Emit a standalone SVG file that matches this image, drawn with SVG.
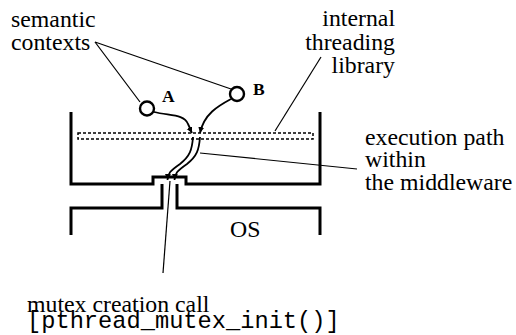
<svg xmlns="http://www.w3.org/2000/svg" width="516" height="335" viewBox="0 0 516 335">
<style>
text{fill:#000}
.t{font-size:23.8px}
.m{font-size:23.7px}
.b{font-size:17.5px;font-weight:bold}
.thick{fill:none;stroke:#000;stroke-width:3}
.thin{fill:none;stroke:#000;stroke-width:1.2}
.path{fill:none;stroke:#000;stroke-width:1.8}
.dot{fill:none;stroke:#000;stroke-width:1.5;stroke-dasharray:3 2}
.ctx{fill:#fff;stroke:#000;stroke-width:2.4}
</style>
<defs>
<marker id="ah" markerWidth="8" markerHeight="8" refX="6" refY="3" orient="auto" markerUnits="userSpaceOnUse">
<path d="M0,0 L6,3 L0,6 Z" fill="#000"/>
</marker>
</defs>
<g id="middleware">
<path class="thick" d="M71,112 V184 H153 V177 H186 V184 H320 V112"/>
</g>
<g id="os">
<path class="thick" d="M71,235 V208 H162 V184 M177,184 V208 H320 V235"/>
<text class="t" x="230" y="237" font-family="Liberation Serif, Times New Roman, serif">OS</text>
</g>
<g id="threading-library">
<rect class="dot" x="78" y="133" width="235" height="6"/>
</g>
<g id="context-a">
<circle class="ctx" cx="147" cy="108.5" r="7"/>
<text class="b" x="162" y="101.5" font-family="Liberation Serif, Times New Roman, serif">A</text>
</g>
<g id="context-b">
<circle class="ctx" cx="237" cy="94" r="7"/>
<text class="b" x="253" y="95" font-family="Liberation Serif, Times New Roman, serif">B</text>
</g>
<g id="connectors">
<path class="path" d="M154,112 C170,116 184,114 188,124 C190,128 191,131 192,133" marker-end="url(#ah)"/>
<path class="path" d="M231,99 C218,106 204,114 200,133" marker-end="url(#ah)"/>
<path class="path" d="M193,137 C192,150 190,156 180,164 C170,171 168,173 167.5,180" marker-end="url(#ah)"/>
<path class="path" d="M200,137 C199,150 197,156 187,164 C177,171 175,173 174.5,180" marker-end="url(#ah)"/>
<line class="thin" x1="95" y1="42" x2="140" y2="102"/>
<line class="thin" x1="95" y1="42" x2="231" y2="89"/>
<line class="thin" x1="321" y1="57" x2="275" y2="131"/>
<line class="thin" x1="200" y1="153" x2="357" y2="169"/>
<line class="thin" x1="170" y1="181" x2="163" y2="273"/>
</g>
<g id="labels" font-family="Liberation Serif, Times New Roman, serif">
<text class="t" x="11" y="26.5">semantic</text>
<text class="t" x="11" y="50">contexts</text>
<text class="t" x="395" y="26" text-anchor="end">internal</text>
<text class="t" x="395" y="49.5" text-anchor="end">threading</text>
<text class="t" x="395" y="72.5" text-anchor="end">library</text>
<text class="t" x="365" y="145">execution path</text>
<text class="t" x="365" y="167">within</text>
<text class="t" x="365" y="190">the middleware</text>
<text class="t" x="27" y="311.5">mutex creation call</text>
<text class="m" x="27" y="328" font-family="Liberation Mono, Courier New, monospace">[pthread_mutex_init()]</text>
</g>
</svg>
